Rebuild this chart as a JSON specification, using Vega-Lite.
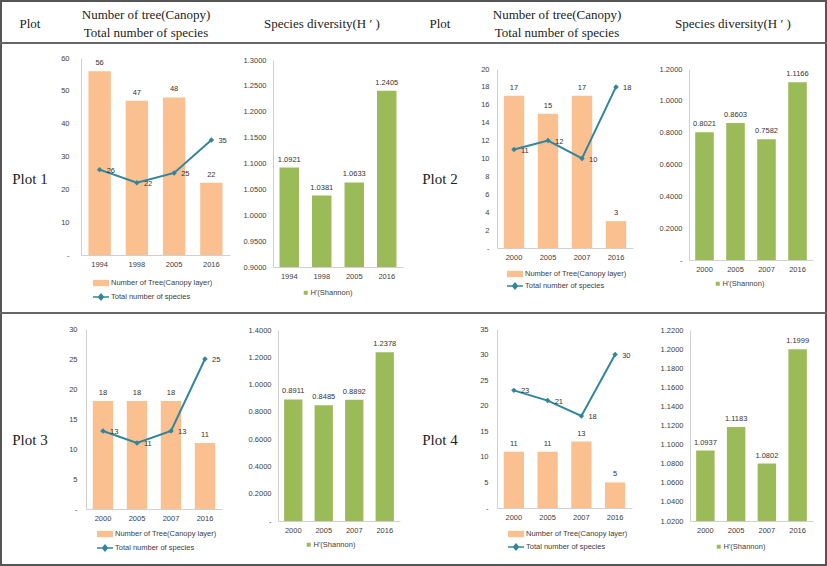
{
"$schema":"https://vega.github.io/schema/vega-lite/v6.json",
"width":827,"height":566,"autosize":{"type":"none"},"padding":0,
"background":"white",
"config":{
 "view":{"stroke":"#555555","strokeWidth":4},
 "axis":{"labelFont":"Liberation Sans","labelFontSize":7.5,"labelColor":"#404040","domainColor":"#d0d0d0","ticks":false,"grid":false,"labelPadding":7},
 "axisX":{"labelAngle":0,"labelPadding":5},
 "text":{"font":"Liberation Sans","fontSize":7.5,"color":"#333333"},
 "legend":{"orient":"none","labelFont":"Liberation Sans","labelFontSize":7.5,"labelColor":"#404040","padding":0,"labelOffset":1}
},
"resolve":{"scale":{"x":"independent","y":"independent","fill":"independent","stroke":"independent"},"axis":{"x":"independent","y":"independent"},"legend":{"fill":"independent","stroke":"independent"}},
"layer":[
{"data":{"values":[{"boundary":1},{"boundary":2}]},
 "mark":{"type":"rule","color":"#666666","strokeWidth":2},
 "encoding":{"y":{"field":"boundary","type":"quantitative","scale":{"domain":[1,2],"range":[43,313],"nice":false,"zero":false},"axis":null}}},
{"data":{"values":[
 {"col":1,"row":1,"label":"Plot"},
 {"col":2,"row":1,"label":["Number of tree(Canopy)","Total number of species"]},
 {"col":3,"row":1,"label":"Species diversity(H ′ )"},
 {"col":4,"row":1,"label":"Plot"},
 {"col":5,"row":1,"label":["Number of tree(Canopy)","Total number of species"]},
 {"col":6,"row":1,"label":"Species diversity(H ′ )"},
 {"col":1,"row":2,"label":"Plot 1"},
 {"col":4,"row":2,"label":"Plot 2"},
 {"col":1,"row":3,"label":"Plot 3"},
 {"col":4,"row":3,"label":"Plot 4"}]},
 "encoding":{
  "x":{"field":"col","type":"quantitative","scale":{"domain":[1,2,3,4,5,6],"range":[30,146,322,440,557,733],"nice":false,"zero":false},"axis":null},
  "y":{"field":"row","type":"quantitative","scale":{"domain":[1,2,3],"range":[24,179,440],"nice":false,"zero":false},"axis":null},
  "text":{"field":"label"}},
 "layer":[
  {"transform":[{"filter":"datum.row == 1 && datum.col != 2 && datum.col != 5"}],"mark":{"type":"text","font":"Liberation Serif","fontSize":13,"color":"#222222","baseline":"middle"}},
  {"transform":[{"filter":"datum.row == 1 && (datum.col == 2 || datum.col == 5)"}],"mark":{"type":"text","font":"Liberation Serif","fontSize":13,"lineHeight":18,"color":"#222222","baseline":"middle","dy":-9}},
  {"transform":[{"filter":"datum.row > 1"}],"mark":{"type":"text","font":"Liberation Serif","fontSize":15,"color":"#222222","baseline":"middle"}}
 ]},

{"data":{"values":[{"year":"1994","trees":56,"species":26},{"year":"1998","trees":47,"species":22},{"year":"2005","trees":48,"species":25},{"year":"2016","trees":22,"species":35}]},
 "encoding":{"x":{"field":"year","type":"nominal","sort":null,"scale":{"type":"band","range":[81,230],"paddingInner":0.4,"paddingOuter":0.2},"axis":{"orient":"bottom","offset":-311,"title":null}}},
 "layer":[
  {"mark":{"type":"bar"},"encoding":{"y":{"field":"trees","type":"quantitative","scale":{"domain":[0,60],"range":[255,58],"nice":false},"axis":{"orient":"left","offset":-81,"title":null,"values":[0,10,20,30,40,50,60],"labelExpr":"datum.value == 0 ? '-' : datum.label","labelPadding":12}},"y2":{"datum":0},
   "fill":{"datum":"Number of Tree(Canopy layer)","scale":{"range":["#FAC08F"]},"legend":{"legendX":92,"legendY":274,"symbolType":"M-1,-0.4H1V0.4H-1Z","symbolSize":256,"title":null}}}},
  {"mark":{"type":"text","baseline":"bottom","dy":-4},"encoding":{"y":{"field":"trees","type":"quantitative"},"text":{"field":"trees","type":"quantitative"}}},
  {"mark":{"type":"line","strokeWidth":2},"encoding":{"y":{"field":"species","type":"quantitative"},
   "stroke":{"datum":"Total number of species","scale":{"range":["#31859C"]},"legend":{"legendX":92,"legendY":288,"symbolType":"M-1,0H1M-0.3,0L0,-0.35L0.3,0L0,0.35Z","symbolSize":256,"symbolStrokeWidth":1.5,"symbolFillColor":"#31859C","title":null}}}},
  {"mark":{"type":"point","shape":"diamond","filled":true,"color":"#31859C","size":30,"opacity":1},"encoding":{"y":{"field":"species","type":"quantitative"}}},
  {"mark":{"type":"text","align":"left","dx":7,"dy":1},"encoding":{"y":{"field":"species","type":"quantitative"},"text":{"field":"species","type":"quantitative"}}}
 ]},

{"data":{"values":[{"year":"1994","H":1.0921},{"year":"1998","H":1.0381},{"year":"2005","H":1.0633},{"year":"2016","H":1.2405}]},
 "encoding":{"x":{"field":"year","type":"nominal","sort":null,"scale":{"type":"band","range":[273,403],"paddingInner":0.4,"paddingOuter":0.2},"axis":{"orient":"bottom","offset":-299,"title":null}}},
 "layer":[
  {"mark":{"type":"bar"},"encoding":{"y":{"field":"H","type":"quantitative","scale":{"domain":[0.9,1.3],"range":[267,60],"nice":false,"zero":false},"axis":{"orient":"left","offset":-273,"title":null,"values":[0.9,0.95,1.0,1.05,1.1,1.15,1.2,1.25,1.3],"format":".4f"}},"y2":{"datum":0.9},
   "fill":{"datum":"H'(Shannon)","scale":{"range":["#9BBB59"]},"legend":{"legendX":302,"legendY":289,"symbolType":"square","symbolSize":16,"title":null}}}},
  {"mark":{"type":"text","baseline":"bottom","dy":-4},"encoding":{"y":{"field":"H","type":"quantitative"},"text":{"field":"H","type":"quantitative","format":".4f"}}}
 ]},

{"data":{"values":[{"year":"2000","trees":17,"species":11},{"year":"2005","trees":15,"species":12},{"year":"2007","trees":17,"species":10},{"year":"2016","trees":3,"species":18}]},
 "encoding":{"x":{"field":"year","type":"nominal","sort":null,"scale":{"type":"band","range":[497,633],"paddingInner":0.4,"paddingOuter":0.2},"axis":{"orient":"bottom","offset":-318,"title":null}}},
 "layer":[
  {"mark":{"type":"bar"},"encoding":{"y":{"field":"trees","type":"quantitative","scale":{"domain":[0,20],"range":[248,69],"nice":false},"axis":{"orient":"left","offset":-497,"title":null,"values":[0,2,4,6,8,10,12,14,16,18,20],"labelExpr":"datum.value == 0 ? '-' : datum.label","labelPadding":8}},"y2":{"datum":0},
   "fill":{"datum":"Number of Tree(Canopy layer)","scale":{"range":["#FAC08F"]},"legend":{"legendX":506,"legendY":265,"symbolType":"M-1,-0.4H1V0.4H-1Z","symbolSize":256,"title":null}}}},
  {"mark":{"type":"text","baseline":"bottom","dy":-4},"encoding":{"y":{"field":"trees","type":"quantitative"},"text":{"field":"trees","type":"quantitative"}}},
  {"mark":{"type":"line","strokeWidth":2},"encoding":{"y":{"field":"species","type":"quantitative"},
   "stroke":{"datum":"Total number of species","scale":{"range":["#31859C"]},"legend":{"legendX":506,"legendY":277,"symbolType":"M-1,0H1M-0.3,0L0,-0.35L0.3,0L0,0.35Z","symbolSize":256,"symbolStrokeWidth":1.5,"symbolFillColor":"#31859C","title":null}}}},
  {"mark":{"type":"point","shape":"diamond","filled":true,"color":"#31859C","size":30,"opacity":1},"encoding":{"y":{"field":"species","type":"quantitative"}}},
  {"mark":{"type":"text","align":"left","dx":7,"dy":1},"encoding":{"y":{"field":"species","type":"quantitative"},"text":{"field":"species","type":"quantitative"}}}
 ]},

{"data":{"values":[{"year":"2000","H":0.8021},{"year":"2005","H":0.8603},{"year":"2007","H":0.7582},{"year":"2016","H":1.1166}]},
 "encoding":{"x":{"field":"year","type":"nominal","sort":null,"scale":{"type":"band","range":[689,813],"paddingInner":0.4,"paddingOuter":0.2},"axis":{"orient":"bottom","offset":-306,"title":null}}},
 "layer":[
  {"mark":{"type":"bar"},"encoding":{"y":{"field":"H","type":"quantitative","scale":{"domain":[0,1.2],"range":[260,69],"nice":false},"axis":{"orient":"left","offset":-689,"title":null,"values":[0,0.2,0.4,0.6,0.8,1.0,1.2],"format":".4f","labelExpr":"datum.value == 0 ? '-' : datum.label"}},"y2":{"datum":0},
   "fill":{"datum":"H'(Shannon)","scale":{"range":["#9BBB59"]},"legend":{"legendX":714,"legendY":280,"symbolType":"square","symbolSize":16,"title":null}}}},
  {"mark":{"type":"text","baseline":"bottom","dy":-4},"encoding":{"y":{"field":"H","type":"quantitative"},"text":{"field":"H","type":"quantitative","format":".4f"}}}
 ]},

{"data":{"values":[{"year":"2000","trees":18,"species":13},{"year":"2005","trees":18,"species":11},{"year":"2007","trees":18,"species":13},{"year":"2016","trees":11,"species":25}]},
 "encoding":{"x":{"field":"year","type":"nominal","sort":null,"scale":{"type":"band","range":[86,222],"paddingInner":0.4,"paddingOuter":0.2},"axis":{"orient":"bottom","offset":-57,"title":null}}},
 "layer":[
  {"mark":{"type":"bar"},"encoding":{"y":{"field":"trees","type":"quantitative","scale":{"domain":[0,30],"range":[509,329],"nice":false},"axis":{"orient":"left","offset":-86,"title":null,"values":[0,5,10,15,20,25,30],"labelExpr":"datum.value == 0 ? '-' : datum.label","labelPadding":9}},"y2":{"datum":0},
   "fill":{"datum":"Number of Tree(Canopy layer)","scale":{"range":["#FAC08F"]},"legend":{"legendX":96,"legendY":525,"symbolType":"M-1,-0.4H1V0.4H-1Z","symbolSize":256,"title":null}}}},
  {"mark":{"type":"text","baseline":"bottom","dy":-4},"encoding":{"y":{"field":"trees","type":"quantitative"},"text":{"field":"trees","type":"quantitative"}}},
  {"mark":{"type":"line","strokeWidth":2},"encoding":{"y":{"field":"species","type":"quantitative"},
   "stroke":{"datum":"Total number of species","scale":{"range":["#31859C"]},"legend":{"legendX":96,"legendY":539,"symbolType":"M-1,0H1M-0.3,0L0,-0.35L0.3,0L0,0.35Z","symbolSize":256,"symbolStrokeWidth":1.5,"symbolFillColor":"#31859C","title":null}}}},
  {"mark":{"type":"point","shape":"diamond","filled":true,"color":"#31859C","size":30,"opacity":1},"encoding":{"y":{"field":"species","type":"quantitative"}}},
  {"mark":{"type":"text","align":"left","dx":7,"dy":1},"encoding":{"y":{"field":"species","type":"quantitative"},"text":{"field":"species","type":"quantitative"}}}
 ]},

{"data":{"values":[{"year":"2000","H":0.8911},{"year":"2005","H":0.8485},{"year":"2007","H":0.8892},{"year":"2016","H":1.2378}]},
 "encoding":{"x":{"field":"year","type":"nominal","sort":null,"scale":{"type":"band","range":[278,400],"paddingInner":0.4,"paddingOuter":0.2},"axis":{"orient":"bottom","offset":-45,"title":null}}},
 "layer":[
  {"mark":{"type":"bar"},"encoding":{"y":{"field":"H","type":"quantitative","scale":{"domain":[0,1.4],"range":[521,330],"nice":false},"axis":{"orient":"left","offset":-278,"title":null,"values":[0,0.2,0.4,0.6,0.8,1.0,1.2,1.4],"format":".4f","labelExpr":"datum.value == 0 ? '-' : datum.label"}},"y2":{"datum":0},
   "fill":{"datum":"H'(Shannon)","scale":{"range":["#9BBB59"]},"legend":{"legendX":305,"legendY":541,"symbolType":"square","symbolSize":16,"title":null}}}},
  {"mark":{"type":"text","baseline":"bottom","dy":-4},"encoding":{"y":{"field":"H","type":"quantitative"},"text":{"field":"H","type":"quantitative","format":".4f"}}}
 ]},

{"data":{"values":[{"year":"2000","trees":11,"species":23},{"year":"2005","trees":11,"species":21},{"year":"2007","trees":13,"species":18},{"year":"2016","trees":5,"species":30}]},
 "encoding":{"x":{"field":"year","type":"nominal","sort":null,"scale":{"type":"band","range":[497,632],"paddingInner":0.4,"paddingOuter":0.2},"axis":{"orient":"bottom","offset":-58,"title":null}}},
 "layer":[
  {"mark":{"type":"bar"},"encoding":{"y":{"field":"trees","type":"quantitative","scale":{"domain":[0,35],"range":[508,329],"nice":false},"axis":{"orient":"left","offset":-497,"title":null,"values":[0,5,10,15,20,25,30,35],"labelExpr":"datum.value == 0 ? '-' : datum.label","labelPadding":9}},"y2":{"datum":0},
   "fill":{"datum":"Number of Tree(Canopy layer)","scale":{"range":["#FAC08F"]},"legend":{"legendX":507,"legendY":525,"symbolType":"M-1,-0.4H1V0.4H-1Z","symbolSize":256,"title":null}}}},
  {"mark":{"type":"text","baseline":"bottom","dy":-4},"encoding":{"y":{"field":"trees","type":"quantitative"},"text":{"field":"trees","type":"quantitative"}}},
  {"mark":{"type":"line","strokeWidth":2},"encoding":{"y":{"field":"species","type":"quantitative"},
   "stroke":{"datum":"Total number of species","scale":{"range":["#31859C"]},"legend":{"legendX":507,"legendY":538,"symbolType":"M-1,0H1M-0.3,0L0,-0.35L0.3,0L0,0.35Z","symbolSize":256,"symbolStrokeWidth":1.5,"symbolFillColor":"#31859C","title":null}}}},
  {"mark":{"type":"point","shape":"diamond","filled":true,"color":"#31859C","size":30,"opacity":1},"encoding":{"y":{"field":"species","type":"quantitative"}}},
  {"mark":{"type":"text","align":"left","dx":7,"dy":1},"encoding":{"y":{"field":"species","type":"quantitative"},"text":{"field":"species","type":"quantitative"}}}
 ]},

{"data":{"values":[{"year":"2000","H":1.0937},{"year":"2005","H":1.1183},{"year":"2007","H":1.0802},{"year":"2016","H":1.1999}]},
 "encoding":{"x":{"field":"year","type":"nominal","sort":null,"scale":{"type":"band","range":[690,813],"paddingInner":0.4,"paddingOuter":0.2},"axis":{"orient":"bottom","offset":-45,"title":null}}},
 "layer":[
  {"mark":{"type":"bar"},"encoding":{"y":{"field":"H","type":"quantitative","scale":{"domain":[1.02,1.22],"range":[521,330],"nice":false,"zero":false},"axis":{"orient":"left","offset":-690,"title":null,"values":[1.02,1.04,1.06,1.08,1.1,1.12,1.14,1.16,1.18,1.2,1.22],"format":".4f"}},"y2":{"datum":1.02},
   "fill":{"datum":"H'(Shannon)","scale":{"range":["#9BBB59"]},"legend":{"legendX":715,"legendY":543,"symbolType":"square","symbolSize":16,"title":null}}}},
  {"mark":{"type":"text","baseline":"bottom","dy":-4},"encoding":{"y":{"field":"H","type":"quantitative"},"text":{"field":"H","type":"quantitative","format":".4f"}}}
 ]}
]
}
